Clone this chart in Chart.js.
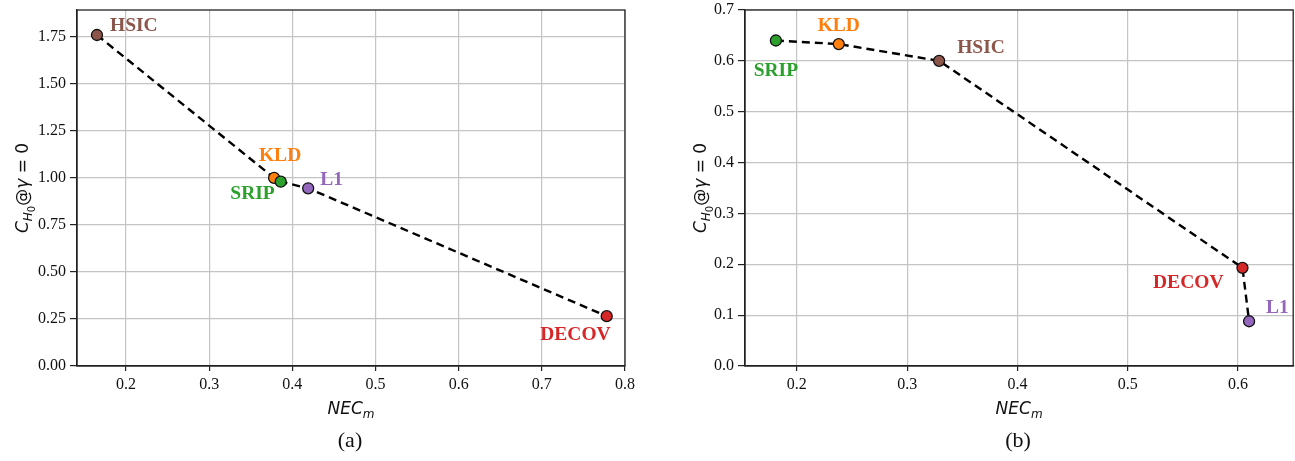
<!DOCTYPE html>
<html>
<head>
<meta charset="utf-8">
<script src="https://cdn.jsdelivr.net/npm/chart.js@4.4.1/dist/chart.umd.min.js"></script>
<style>
  body { margin: 0; background: #fff; width: 1295px; height: 461px; overflow: hidden; position: relative; }
  .box { position: absolute; top: 0; height: 461px; overflow: hidden; }
  .cap { position: absolute; top: 427px; font: 22px "Liberation Serif", serif; color: #111; transform: translateX(-50%); }
</style>
</head>
<body>
<div class="box" style="left:0;width:650px"><canvas id="chartA"></canvas></div>
<div class="box" style="left:650px;width:645px"><canvas id="chartB"></canvas></div>
<div class="cap" style="left:350px">(a)</div>
<div class="cap" style="left:1018px">(b)</div>
<script>
// method names and colours
const methods = ["HSIC", "KLD", "SRIP", "L1", "DECOV"];
const colors = ["#8c564b", "#ff7f0e", "#2ca02c", "#9467bd", "#d62728"];

// (a)
const necA = [0.165, 0.378, 0.386, 0.419, 0.778];
const chA  = [1.76, 1.00, 0.98, 0.945, 0.265];
const xTicksA = [0.2, 0.3, 0.4, 0.5, 0.6, 0.7, 0.8];
const yTicksA = [0, 0.25, 0.5, 0.75, 1.0, 1.25, 1.5, 1.75];

// (b)
const necB = [0.329, 0.238, 0.181, 0.610, 0.604];
const chB  = [0.600, 0.633, 0.640, 0.088, 0.193];
const xTicksB = [0.2, 0.3, 0.4, 0.5, 0.6];
const yTicksB = [0, 0.1, 0.2, 0.3, 0.4, 0.5, 0.6, 0.7];

// label offsets in px: [dx, dy, align]
const offA = { HSIC: [13, -9, "left"], KLD: [6, -22, "center"], SRIP: [-6, 12, "right"], L1: [12, -8, "left"], DECOV: [4, 19, "right"] };
const offB = { HSIC: [18, -13, "left"], KLD: [0, -18, "center"], SRIP: [0, 30, "center"], L1: [17, -13, "left"], DECOV: [-19, 15, "right"] };

const frameAndText = {
  id: "frameAndText",
  afterDatasetsDraw(chart, args, opts) {
    const ctx = chart.ctx, a = chart.chartArea;
    const xs = chart.scales.x, ys = chart.scales.y;
    ctx.save();
    ctx.strokeStyle = "#222";
    ctx.lineWidth = 1.3;
    ctx.strokeRect(a.left, a.top, a.right - a.left, a.bottom - a.top);
    // point labels
    ctx.font = "bold 19.5px 'Liberation Serif', serif";
    ctx.textBaseline = "middle";
    opts.points.forEach(p => {
      const o = opts.offsets[p.name];
      ctx.fillStyle = p.color;
      ctx.textAlign = o[2];
      ctx.fillText(p.name, xs.getPixelForValue(p.x) + o[0], ys.getPixelForValue(p.y) + o[1]);
    });
    // x title NEC_m
    ctx.fillStyle = "#111";
    ctx.textAlign = "left";
    ctx.textBaseline = "alphabetic";
    const cx = (a.left + a.right) / 2, ty = a.bottom + 48;
    ctx.font = "italic 17px 'DejaVu Sans'";
    const w1 = ctx.measureText("NEC").width;
    ctx.font = "italic 12px 'DejaVu Sans'";
    const w2 = ctx.measureText("m").width;
    const x0 = cx - (w1 + w2) / 2;
    ctx.font = "italic 17px 'DejaVu Sans'";
    ctx.fillText("NEC", x0, ty);
    ctx.font = "italic 12px 'DejaVu Sans'";
    ctx.fillText("m", x0 + w1, ty + 4);
    // y title C_{H_0}@γ = 0
    ctx.translate(opts.yTitleX, (a.top + a.bottom) / 2);
    ctx.rotate(-Math.PI / 2);
    const parts = [
      ["italic 17px 'DejaVu Sans'", "C", 0],
      ["italic 12px 'DejaVu Sans'", "H", 4],
      ["10px 'DejaVu Sans'", "0", 7],
      ["17px 'DejaVu Sans'", "@", 0],
      ["italic 17px 'DejaVu Sans'", "\u03b3", 0],
      ["17px 'DejaVu Sans'", " = 0", 0]
    ];
    let tw = 0;
    parts.forEach(p => { ctx.font = p[0]; tw += ctx.measureText(p[1]).width; });
    let px = -tw / 2;
    parts.forEach(p => { ctx.font = p[0]; ctx.fillText(p[1], px, 6 + p[2]); px += ctx.measureText(p[1]).width; });
    ctx.restore();
  }
};

function makeChart(id, nec, ch, xTicks, yTicks, xMin, xMax, yMax, yDec, yAxisW, padRight, offsets, yTitleX) {
  const pts = methods.map((m, i) => ({ name: m, color: colors[i], x: nec[i], y: ch[i] }));
  const sorted = pts.slice().sort((p, q) => p.x - q.x);
  const tickFont = { family: "'Liberation Serif', serif", size: 16 };
  return new Chart(document.getElementById(id), {
    type: "scatter",
    data: {
      datasets: [{
        data: sorted.map(p => ({ x: p.x, y: p.y })),
        showLine: true,
        borderColor: "#000",
        borderWidth: 2.4,
        borderDash: [8, 5],
        pointRadius: 5.5,
        pointHoverRadius: 5.5,
        pointBackgroundColor: sorted.map(p => p.color),
        pointBorderColor: "#111",
        pointBorderWidth: 1.3
      }]
    },
    options: {
      responsive: false,
      animation: false,
      events: [],
      layout: { padding: { top: 10, right: padRight, left: 0, bottom: 0 } },
      plugins: {
        legend: { display: false },
        tooltip: { enabled: false },
        frameAndText: { points: pts, offsets: offsets, yTitleX: yTitleX }
      },
      scales: {
        x: {
          type: "linear", min: xMin, max: xMax,
          afterBuildTicks: s => { s.ticks = xTicks.map(v => ({ value: v })); },
          afterFit: s => { s.height = 95; s.paddingLeft = 0; s.paddingRight = 0; },
          grid: { color: "#c4c4c4", lineWidth: 1.2, tickColor: "#222", tickLength: 5 },
          border: { color: "#222", width: 1.3 },
          ticks: { font: tickFont, color: "#111", padding: 4, maxRotation: 0, callback: v => v.toFixed(1) }
        },
        y: {
          type: "linear", min: 0, max: yMax,
          afterBuildTicks: s => { s.ticks = yTicks.map(v => ({ value: v })); },
          afterFit: s => { s.width = yAxisW; s.paddingTop = 0; s.paddingBottom = 0; },
          grid: { color: "#c4c4c4", lineWidth: 1.2, tickColor: "#222", tickLength: 7 },
          border: { color: "#222", width: 1.3 },
          ticks: { font: tickFont, color: "#111", padding: 4, callback: v => v.toFixed(yDec) }
        }
      }
    },
    plugins: [frameAndText]
  });
}

function sizeCanvas(id, w) {
  const c = document.getElementById(id);
  c.width = w; c.height = 461;
  c.style.width = w + "px"; c.style.height = "461px";
}
sizeCanvas("chartA", 650);
sizeCanvas("chartB", 650);
makeChart("chartA", necA, chA, xTicksA, yTicksA, 0.141, 0.8, 1.893, 2, 77, 25, offA, 22);
makeChart("chartB", necB, chB, xTicksB, yTicksB, 0.153, 0.65, 0.7, 1, 95, 2, offB, 50);
</script>
</body>
</html>
